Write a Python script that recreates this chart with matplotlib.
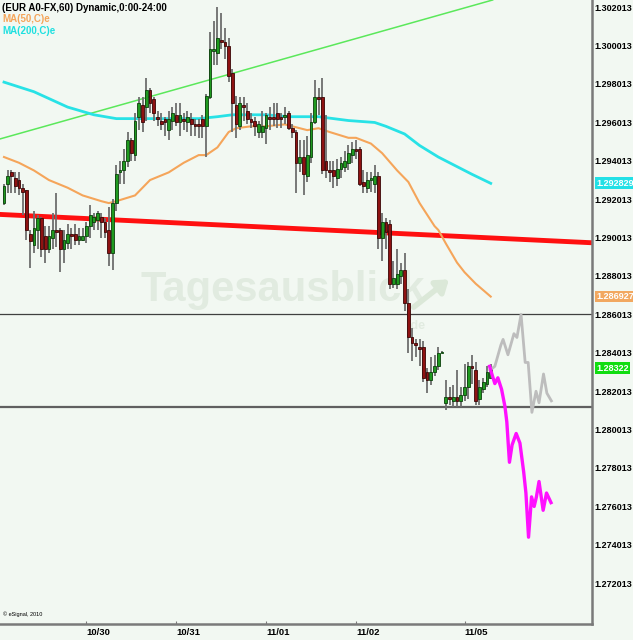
import matplotlib.pyplot as plt
import matplotlib.transforms as mtransforms

plt.rcParams["font.family"] = ["Liberation Sans", "DejaVu Sans"]

# hourly EUR A0-FX candles (left to right)
opens = [1.2918, 1.2928, 1.2934, 1.2931, 1.2930, 1.2926, 1.2925, 1.2902, 1.2896, 1.2904,
         1.2910, 1.2901, 1.2894, 1.2900, 1.2904, 1.2904, 1.2894, 1.2897, 1.2902, 1.2902,
         1.2899, 1.2899, 1.2901, 1.2906, 1.2908, 1.2909, 1.2911, 1.2908, 1.2904, 1.2892,
         1.2918, 1.2934, 1.2935, 1.2940, 1.2951, 1.2943, 1.2963, 1.2969, 1.2968, 1.2977,
         1.2972, 1.2963, 1.2961, 1.2962, 1.2956, 1.2961, 1.2964, 1.2960, 1.2962, 1.2960,
         1.2962, 1.2959, 1.2959, 1.2962, 1.2958, 1.2973, 1.2997, 1.2996, 1.3003, 1.3002,
         1.3000, 1.2986, 1.2969, 1.2958, 1.2969, 1.2966, 1.2962, 1.2961, 1.2955, 1.2955,
         1.2957, 1.2963, 1.2963, 1.2965, 1.2963, 1.2963, 1.2965, 1.2957, 1.2955, 1.2939,
         1.2942, 1.2932, 1.2942, 1.2960, 1.2973, 1.2973, 1.2940, 1.2935, 1.2935, 1.2931,
         1.2936, 1.2937, 1.2939, 1.2943, 1.2946, 1.2946, 1.2929, 1.2926, 1.2930, 1.2928,
         1.2932, 1.2900, 1.2908, 1.2907, 1.2876, 1.2876, 1.2880, 1.2883, 1.2866, 1.2848,
         1.2845, 1.2843, 1.2843, 1.2830, 1.2826, 1.2830, 1.2833, 1.2840, 1.2814, 1.2817,
         1.2815, 1.2817, 1.2815, 1.2818, 1.2822, 1.2833, 1.2831, 1.2816, 1.2821, 1.2824,
         1.2827]
highs = [1.2928, 1.2935, 1.2935, 1.2934, 1.2934, 1.2928, 1.2925, 1.2904, 1.2914, 1.2912,
         1.2911, 1.2906, 1.2906, 1.2913, 1.2923, 1.2905, 1.2904, 1.2907, 1.2905, 1.2907,
         1.2905, 1.2905, 1.2908, 1.2917, 1.2913, 1.2914, 1.2913, 1.2910, 1.2916, 1.2920,
         1.2938, 1.2940, 1.2946, 1.2955, 1.2952, 1.2965, 1.2973, 1.2973, 1.2983, 1.2978,
         1.2973, 1.2966, 1.2965, 1.2963, 1.2966, 1.2968, 1.2970, 1.2970, 1.2965, 1.2966,
         1.2965, 1.2962, 1.2962, 1.2964, 1.2975, 1.3007, 1.3013, 1.3020, 1.3017, 1.3009,
         1.3004, 1.2988, 1.2974, 1.2973, 1.2973, 1.2970, 1.2965, 1.2963, 1.2961, 1.2966,
         1.2965, 1.2968, 1.2970, 1.2970, 1.2965, 1.2968, 1.2966, 1.2959, 1.2956, 1.2951,
         1.2951, 1.2953, 1.2965, 1.2982, 1.2978, 1.2983, 1.2964, 1.2940, 1.2940, 1.2941,
         1.2942, 1.2945, 1.2948, 1.2950, 1.2951, 1.2947, 1.2935, 1.2934, 1.2934, 1.2938,
         1.2934, 1.2913, 1.2910, 1.2909, 1.2888, 1.2894, 1.2887, 1.2892, 1.2873, 1.2853,
         1.2847, 1.2847, 1.2846, 1.2832, 1.2838, 1.2839, 1.2843, 1.2841, 1.2826, 1.2822,
         1.2823, 1.2831, 1.2822, 1.2834, 1.2835, 1.2839, 1.2835, 1.2826, 1.2827, 1.2833,
         1.2834]
lows = [1.2917, 1.2923, 1.2923, 1.2923, 1.2922, 1.2912, 1.2899, 1.2884, 1.2892, 1.2894,
        1.2890, 1.2887, 1.2892, 1.2894, 1.2895, 1.2882, 1.2887, 1.2894, 1.2894, 1.2896,
        1.2896, 1.2898, 1.2897, 1.2900, 1.2904, 1.2904, 1.2900, 1.2900, 1.2885, 1.2883,
        1.2914, 1.2928, 1.2928, 1.2937, 1.2940, 1.2940, 1.2956, 1.2955, 1.2961, 1.2965,
        1.2961, 1.2958, 1.2956, 1.2953, 1.2951, 1.2956, 1.2958, 1.2953, 1.2956, 1.2955,
        1.2953, 1.2953, 1.2952, 1.2952, 1.2942, 1.2972, 1.2990, 1.2990, 1.2998, 1.2993,
        1.2981, 1.2955, 1.2952, 1.2956, 1.2961, 1.2959, 1.2957, 1.2953, 1.2952, 1.2952,
        1.2949, 1.2956, 1.2958, 1.2957, 1.2957, 1.2959, 1.2956, 1.2952, 1.2923, 1.2934,
        1.2922, 1.2929, 1.2939, 1.2959, 1.2964, 1.2933, 1.2931, 1.2929, 1.2926, 1.2927,
        1.2931, 1.2934, 1.2935, 1.2939, 1.2941, 1.2927, 1.2923, 1.2923, 1.2924, 1.2923,
        1.2894, 1.2888, 1.2894, 1.2873, 1.2874, 1.2873, 1.2876, 1.2862, 1.2840, 1.2836,
        1.2838, 1.2833, 1.2825, 1.2819, 1.2823, 1.2828, 1.2831, 1.2840, 1.2810, 1.2813,
        1.2812, 1.2812, 1.2812, 1.2815, 1.2816, 1.2824, 1.2813, 1.2813, 1.2819, 1.2822,
        1.2827]
closes = [1.2927, 1.2932, 1.2932, 1.2927, 1.2926, 1.2924, 1.2904, 1.2898, 1.2905, 1.2910,
          1.2894, 1.2894, 1.2901, 1.2904, 1.2903, 1.2894, 1.2899, 1.2902, 1.2901, 1.2899,
          1.2901, 1.2901, 1.2906, 1.2912, 1.2911, 1.2913, 1.2908, 1.2903, 1.2892, 1.2918,
          1.2933, 1.2935, 1.2940, 1.2951, 1.2944, 1.2961, 1.2970, 1.2960, 1.2977, 1.2970,
          1.2965, 1.2962, 1.2959, 1.2960, 1.2962, 1.2965, 1.2960, 1.2964, 1.2961, 1.2963,
          1.2959, 1.2958, 1.2958, 1.2958, 1.2974, 1.2998, 1.2998, 1.3004, 1.3002, 1.3000,
          1.2984, 1.2970, 1.2959, 1.2970, 1.2968, 1.2962, 1.2960, 1.2958, 1.2959, 1.2958,
          1.2964, 1.2962, 1.2962, 1.2962, 1.2962, 1.2964, 1.2957, 1.2955, 1.2939, 1.2942,
          1.2933, 1.2943, 1.2960, 1.2973, 1.2972, 1.2935, 1.2935, 1.2934, 1.2932, 1.2936,
          1.2939, 1.2940, 1.2944, 1.2946, 1.2945, 1.2928, 1.2927, 1.2930, 1.2931, 1.2932,
          1.2900, 1.2908, 1.2903, 1.2876, 1.2879, 1.2881, 1.2883, 1.2866, 1.2848, 1.2845,
          1.2844, 1.2842, 1.2827, 1.2826, 1.2830, 1.2833, 1.2840, 1.2840, 1.2817, 1.2816,
          1.2817, 1.2815, 1.2818, 1.2822, 1.2833, 1.2832, 1.2815, 1.2822, 1.2825, 1.2830,
          1.2832]

# moving averages, sampled along the drawn curves (bar index, price)
ma50_bar = [0, 4, 8, 12, 17, 21, 26, 28, 30, 35, 39, 44, 48, 52, 54, 57, 60, 62, 66, 70,
            75, 77, 81, 84, 87, 92, 94, 98, 101, 105, 108, 111, 115, 116, 118, 121, 123,
            126, 130]
ma50_val = [1.2942, 1.2939, 1.2935, 1.2930, 1.2926, 1.2922, 1.2919, 1.2918, 1.2919, 1.2922,
            1.2930, 1.2934, 1.2939, 1.2943, 1.2943, 1.2947, 1.2955, 1.2957, 1.2958, 1.2958,
            1.2959, 1.2958, 1.2956, 1.2957, 1.2955, 1.2952, 1.2952, 1.2949, 1.2944, 1.2935,
            1.2929, 1.2918, 1.2906, 1.2904, 1.2897, 1.2887, 1.2882, 1.2876, 1.28693]
ma200_bar = [0, 8, 17, 24, 30, 39, 48, 52, 57, 61, 70, 76, 84, 92, 99, 102, 107, 111, 116,
             122, 125, 130]
ma200_val = [1.2981, 1.2976, 1.2968, 1.2964, 1.2962, 1.2962, 1.2962, 1.2962, 1.2963, 1.2964,
             1.2964, 1.2963, 1.2963, 1.2961, 1.2960, 1.2958, 1.2954, 1.2948, 1.2942, 1.2936,
             1.2933, 1.292829]

# drawn trend lines: two points each (bar, price)
red_line = [(0, 1.2912), (150, 1.2898)]
green_line = [(0, 1.2952), (120, 1.3018)]
resistance = 1.2860
support = 1.2812

# hand drawn projections after the last bar
gray_bar = [129.8, 131.1, 132.7, 133.3, 134.6, 136.2, 137.0, 138.1, 139.2, 140.0, 141.0,
            142.1, 142.9, 144.1, 145.0, 146.2]
gray_val = [1.2831, 1.2833, 1.2844, 1.2847, 1.2839, 1.2850, 1.2848, 1.2860, 1.2835, 1.2835,
            1.2809, 1.2820, 1.2814, 1.2829, 1.2819, 1.2815]
pink_bar = [129.7, 130.3, 131.1, 131.9, 132.9, 133.8, 134.3, 135.0, 135.7, 136.8, 137.8,
            138.8, 139.4, 140.1, 140.9, 141.6, 142.2, 142.9, 144.0, 144.9, 146.1]
pink_val = [1.2833, 1.2829, 1.2824, 1.2827, 1.2821, 1.2812, 1.2804, 1.2783, 1.2792, 1.2798,
            1.2793, 1.2778, 1.2767, 1.2744, 1.2765, 1.2760, 1.2765, 1.2773, 1.2758, 1.2767,
            1.2762]

date_bars = [22, 46, 70, 94, 123]
date_labels = ["10/30", "10/31", "11/01", "11/02", "11/05"]
price_ticks = [1.272013 + 0.002 * k for k in range(16)]

bg = "#f2f8f2"
fig = plt.figure(figsize=(6.33, 6.40), dpi=100)
fig.patch.set_facecolor(bg)
ax = fig.add_axes([0, 16 / 640, 592 / 633, 624 / 640])
ax.set_facecolor(bg)

# watermark
ax.text(0.478, 0.535, "Tagesausblick", transform=ax.transAxes, fontsize=30,
        fontweight="bold", color="#e1ebe0", ha="center", va="center", zorder=0)
ax.text(0.688, 0.478, ".de", transform=ax.transAxes, fontsize=9,
        fontweight="bold", color="#e1ebe0", ha="left", va="center", zorder=0)
ax.annotate("", xy=(0.762, 0.555), xytext=(0.695, 0.505), xycoords="axes fraction",
            arrowprops=dict(arrowstyle="-|>,head_width=0.5,head_length=0.7",
                            color="#dbe8d8", lw=4), zorder=0)

# lines behind the candles
ax.axline(red_line[0], red_line[1], color="#ff1010", lw=3.5, zorder=2)
ax.axline(green_line[0], green_line[1], color="#5be85b", lw=1.1, zorder=2)
ax.axhline(resistance, color="#404040", lw=0.9, zorder=2)
ax.axhline(support, color="#606060", lw=1.6, zorder=2)
ax.plot(ma200_bar, ma200_val, color="#28e2e6", lw=2.0, zorder=2)
ax.plot(ma50_bar, ma50_val, color="#f5a55a", lw=1.5, zorder=2)

# candles
xs = list(range(len(opens)))
ax.vlines(xs, lows, highs, color="#6e6e6e", lw=1.3, zorder=3)
for x, o, c in zip(xs, opens, closes):
    up = c >= o
    h = max(abs(c - o), 0.00004)
    ax.bar(x, h, bottom=min(o, c), width=0.74, zorder=4,
           color="#1f9a1f" if up else "#8e1212",
           edgecolor="#0b3f0b" if up else "#3a0505", linewidth=0.6)

ax.plot(gray_bar, gray_val, color="#bdbdbd", lw=2.0, zorder=5)
ax.plot(pink_bar, pink_val, color="#ff10ff", lw=2.4, zorder=5)

ax.set_xlim(-1.07, 157.05)
ax.set_ylim(1.269878, 1.302378)

# axes styling
for side in ["top", "left"]:
    ax.spines[side].set_visible(False)
for side in ["right", "bottom"]:
    ax.spines[side].set_color("#7a7a7a")
    ax.spines[side].set_linewidth(1.8)

ax.yaxis.tick_right()
ax.set_yticks(price_ticks)
ax.set_yticklabels([f"{v:.6f}" for v in price_ticks], fontsize=6.5, fontweight="bold")
ax.tick_params(axis="y", length=0, pad=2)
ax.set_xticks(date_bars)
ax.set_xticklabels(date_labels, fontsize=6.8, fontweight="bold", ha="left")
ax.tick_params(axis="x", direction="in", length=2, color="#7a7a7a", pad=3)

# current value boxes on the price scale
trans = mtransforms.blended_transform_factory(ax.transAxes, ax.transData)
for val, txt, col in [(ma200_val[-1], "1.292829", "#22e0e6"),
                      (ma50_val[-1], "1.286927", "#f2a860"),
                      (closes[-1], "1.28322", "#11dd11")]:
    ax.text(1.007, val, txt, transform=trans, fontsize=6.5, fontweight="bold",
            color="white", ha="left", va="center", zorder=6,
            bbox=dict(boxstyle="square,pad=0.15", fc=col, ec="none"))

# header
fig.text(2 / 633, 1 - 8 / 640, "(EUR A0-FX,60) Dynamic,0:00-24:00", fontsize=7,
         fontweight="bold", ha="left", va="center")
fig.text(2 / 633, 1 - 19 / 640, "MA(50,C)e", fontsize=7, fontweight="bold",
         color="#f5a55a", ha="left", va="center")
fig.text(2 / 633, 1 - 31 / 640, "MA(200,C)e", fontsize=7, fontweight="bold",
         color="#1ee0e0", ha="left", va="center")
ax.text(0.005, 0.012, "\u00a9 eSignal, 2010", transform=ax.transAxes, fontsize=4,
        ha="left", va="bottom")

fig.savefig("out.png", dpi=100, facecolor=bg)
